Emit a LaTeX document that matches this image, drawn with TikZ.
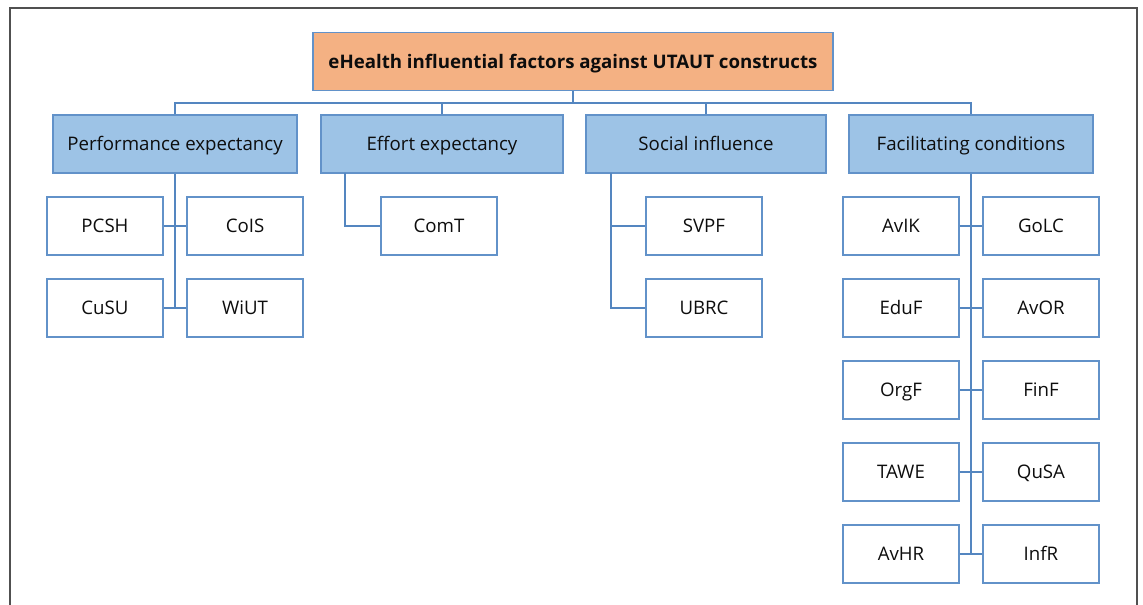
\documentclass[tikz,border=0pt]{standalone}
\usepackage{fontspec}
\setmainfont{Open Sans}
\definecolor{bord}{RGB}{98,146,201}
\definecolor{conn}{RGB}{84,134,192}
\definecolor{lvlfill}{RGB}{157,195,230}
\definecolor{rootfill}{RGB}{244,177,131}
\definecolor{framec}{RGB}{80,80,80}
\tikzset{
  box/.style={draw=bord, line width=1.1pt, inner sep=0pt, minimum height=43.5pt, text height=10pt, text depth=0pt, font=\fontsize{14}{16}\selectfont, text=black!95},
  rootbox/.style={box, fill=rootfill, minimum width=390pt, font=\fontsize{14}{16}\selectfont\bfseries},
  lvlbox/.style={box, fill=lvlfill, minimum width=183pt},
  leaf/.style={box, fill=white, minimum width=87pt},
  link/.style={draw=conn, line width=1.1pt},
}
\begin{document}
\begin{tikzpicture}[x=0.75pt,y=-0.75pt]
\useasboundingbox (0,0) rectangle (1143,605);
\draw[framec, line width=1.1pt] (10,606) -- (10,8) -- (1137,8) -- (1137,606);
\node[rootbox] (root) at (573,61.5) {eHealth influential factors against UTAUT constructs};
\node[lvlbox] (pe) at (175,144) {Performance expectancy};
\node[lvlbox, minimum width=181.5pt] (ee) at (442,144) {Effort expectancy};
\node[lvlbox, minimum width=180pt] (si) at (706,144) {Social influence};
\node[lvlbox] (fc) at (971,144) {Facilitating conditions};
\coordinate (bus) at (573,103);
\draw[link] (root.south) -- (root.south|-bus);
\draw[link] (pe.north) -- (pe.north|-bus) -- (fc.north|-bus) -- (fc.north);
\draw[link] (ee.north) -- (ee.north|-bus);
\draw[link] (si.north) -- (si.north|-bus);
% PE
\node[leaf] (pcsh) at (105,226) {PCSH};
\node[leaf] (cois) at (245,226) {CoIS};
\node[leaf] (cusu) at (105,308) {CuSU};
\node[leaf] (wiut) at (245,308) {WiUT};
\draw[link] (pe.south) -- (pe.south|-wiut.west);
\draw[link] (pcsh.east) -- (cois.west);
\draw[link] (cusu.east) -- (wiut.west);
% EE
\node[leaf] (comt) at (439,226) {ComT};
\coordinate (eet) at (345,173);
\draw[link] (eet) |- (comt.west);
% SI
\node[leaf] (svpf) at (704,226) {SVPF};
\node[leaf] (ubrc) at (704,308) {UBRC};
\coordinate (sit) at (611,173);
\draw[link] (sit) |- (ubrc.west);
\draw[link] (sit|-svpf.west) -- (svpf.west);
% FC
\node[leaf] (avik) at (901,226) {AvIK};
\node[leaf] (golc) at (1041,226) {GoLC};
\node[leaf] (eduf) at (901,308) {EduF};
\node[leaf] (avor) at (1041,308) {AvOR};
\node[leaf] (orgf) at (901,390) {OrgF};
\node[leaf] (finf) at (1041,390) {FinF};
\node[leaf] (tawe) at (901,472) {TAWE};
\node[leaf] (qusa) at (1041,472) {QuSA};
\node[leaf] (avhr) at (901,554) {AvHR};
\node[leaf] (infr) at (1041,554) {InfR};
\draw[link] (fc.south) -- (fc.south|-infr.west);
\draw[link] (avik.east) -- (golc.west);
\draw[link] (eduf.east) -- (avor.west);
\draw[link] (orgf.east) -- (finf.west);
\draw[link] (tawe.east) -- (qusa.west);
\draw[link] (avhr.east) -- (infr.west);
\end{tikzpicture}
\end{document}
